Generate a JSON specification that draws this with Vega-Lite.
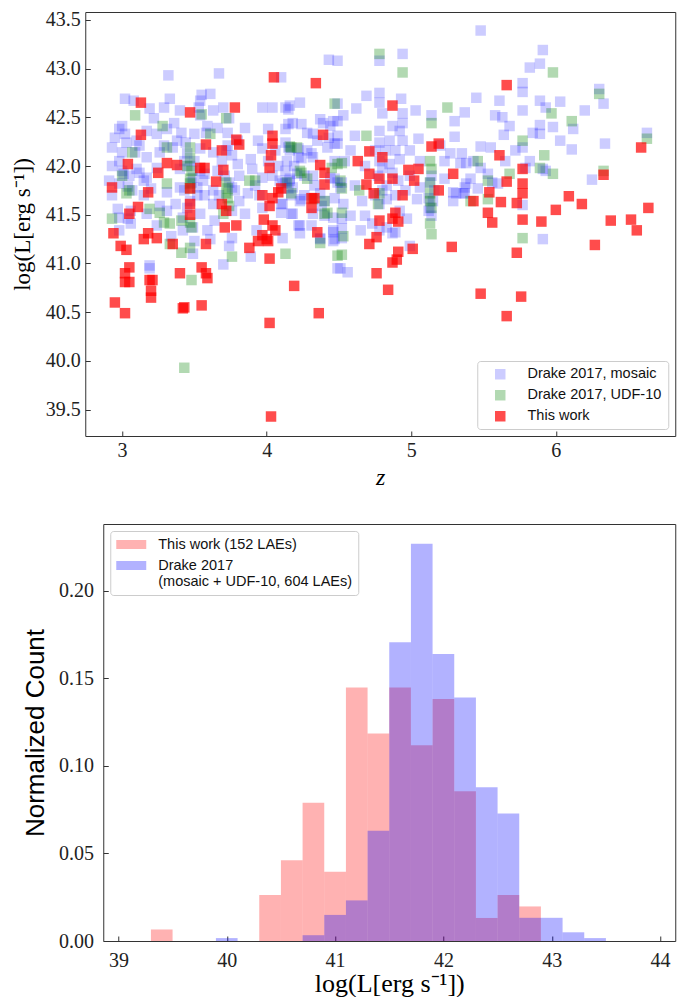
{
"$schema": "https://vega.github.io/schema/vega-lite/v6.json",
"padding": {"left": 10, "top": 9, "right": 0, "bottom": 0},
"background": "white",
"center": true,
"spacing": 33,
"resolve": {"scale": {"color": "independent"}, "legend": {"color": "independent"}},
"config": {
  "view": {"stroke": "#333333", "strokeWidth": 1},
  "axis": {"labelFont": "Liberation Serif", "labelFontSize": 20, "labelColor": "#222222", "tickColor": "#333333", "tickSize": -5, "tickWidth": 1, "domain": false, "grid": false, "titleFontWeight": "normal", "titleColor": "#000000"},
  "legend": {"titleFontSize": 0, "titlePadding": 0}
},
"vconcat": [
{
  "width": 590, "height": 424,
  "data": {"values": [
{"z":3.32,"L":42.93,"s":"M"},{"z":3.67,"L":42.95,"s":"M"},{"z":3.33,"L":42.69,"s":"M"},{"z":3.61,"L":42.74,"s":"M"},{"z":3.55,"L":42.73,"s":"M"},{"z":3.54,"L":42.67,"s":"M"},{"z":3.53,"L":42.60,"s":"M"},{"z":3.02,"L":42.69,"s":"M"},{"z":3.08,"L":42.67,"s":"M"},{"z":3.19,"L":42.59,"s":"M"},{"z":3.29,"L":42.60,"s":"M"},{"z":3.40,"L":42.57,"s":"M"},{"z":3.36,"L":42.44,"s":"M"},{"z":3.54,"L":42.52,"s":"M"},{"z":3.63,"L":42.57,"s":"M"},{"z":3.70,"L":42.60,"s":"M"},{"z":3.74,"L":42.49,"s":"M"},{"z":3.97,"L":42.60,"s":"M"},{"z":4.04,"L":42.60,"s":"M"},{"z":4.13,"L":42.60,"s":"M"},{"z":4.16,"L":42.62,"s":"M"},{"z":4.23,"L":42.65,"s":"M"},{"z":4.43,"L":43.09,"s":"M"},{"z":4.49,"L":42.64,"s":"M"},
{"z":3.00,"L":42.41,"s":"M"},{"z":2.95,"L":42.29,"s":"M"},{"z":2.93,"L":42.19,"s":"M"},{"z":3.03,"L":42.24,"s":"M"},{"z":3.10,"L":42.26,"s":"M"},{"z":3.17,"L":42.36,"s":"M"},{"z":3.24,"L":42.33,"s":"M"},{"z":3.31,"L":42.38,"s":"M"},{"z":3.41,"L":42.34,"s":"M"},{"z":3.50,"L":42.33,"s":"M"},{"z":3.58,"L":42.34,"s":"M"},{"z":3.66,"L":42.39,"s":"M"},{"z":3.73,"L":42.34,"s":"M"},{"z":3.85,"L":42.39,"s":"M"},{"z":4.01,"L":42.38,"s":"M"},{"z":4.13,"L":42.38,"s":"M"},{"z":4.18,"L":42.44,"s":"M"},{"z":4.24,"L":42.43,"s":"M"},{"z":4.32,"L":42.33,"s":"M"},{"z":4.39,"L":42.44,"s":"M"},{"z":4.46,"L":42.46,"s":"M"},
{"z":3.00,"L":42.14,"s":"M"},{"z":3.09,"L":42.14,"s":"M"},{"z":3.17,"L":42.09,"s":"M"},{"z":3.26,"L":42.14,"s":"M"},{"z":3.35,"L":42.19,"s":"M"},{"z":3.45,"L":42.13,"s":"M"},{"z":3.54,"L":42.18,"s":"M"},{"z":3.63,"L":42.14,"s":"M"},{"z":3.73,"L":42.21,"s":"M"},{"z":3.76,"L":42.11,"s":"M"},{"z":3.89,"L":42.07,"s":"M"},{"z":3.97,"L":42.18,"s":"M"},{"z":4.06,"L":42.16,"s":"M"},{"z":4.15,"L":42.19,"s":"M"},{"z":4.24,"L":42.08,"s":"M"},{"z":4.31,"L":42.13,"s":"M"},{"z":4.42,"L":42.19,"s":"M"},{"z":4.47,"L":42.23,"s":"M"},
{"z":2.93,"L":42.00,"s":"M"},{"z":3.01,"L":41.92,"s":"M"},{"z":3.10,"L":41.97,"s":"M"},{"z":3.17,"L":41.88,"s":"M"},{"z":3.24,"L":41.98,"s":"M"},{"z":3.40,"L":41.97,"s":"M"},{"z":3.49,"L":41.88,"s":"M"},{"z":3.57,"L":41.92,"s":"M"},{"z":3.66,"L":41.95,"s":"M"},{"z":3.80,"L":42.02,"s":"M"},{"z":3.90,"L":41.97,"s":"M"},{"z":3.97,"L":41.88,"s":"M"},{"z":4.04,"L":41.90,"s":"M"},{"z":4.16,"L":41.85,"s":"M"},{"z":4.21,"L":41.92,"s":"M"},{"z":4.32,"L":41.90,"s":"M"},{"z":4.44,"L":41.88,"s":"M"},{"z":4.49,"L":41.83,"s":"M"},
{"z":2.93,"L":41.70,"s":"M"},{"z":2.98,"L":41.82,"s":"M"},{"z":3.07,"L":41.75,"s":"M"},{"z":3.20,"L":41.77,"s":"M"},{"z":3.31,"L":41.73,"s":"M"},{"z":3.40,"L":41.78,"s":"M"},{"z":3.52,"L":41.78,"s":"M"},{"z":3.63,"L":41.75,"s":"M"},{"z":3.76,"L":41.78,"s":"M"},{"z":3.87,"L":41.72,"s":"M"},{"z":3.95,"L":41.70,"s":"M"},{"z":4.13,"L":41.83,"s":"M"},{"z":4.18,"L":41.78,"s":"M"},{"z":4.24,"L":41.66,"s":"M"},{"z":4.37,"L":41.72,"s":"M"},{"z":4.47,"L":41.67,"s":"M"},
{"z":2.97,"L":41.56,"s":"M"},{"z":3.06,"L":41.54,"s":"M"},{"z":3.17,"L":41.51,"s":"M"},{"z":3.26,"L":41.59,"s":"M"},{"z":3.42,"L":41.47,"s":"M"},{"z":3.45,"L":41.57,"s":"M"},{"z":3.54,"L":41.51,"s":"M"},{"z":3.63,"L":41.61,"s":"M"},{"z":3.76,"L":41.54,"s":"M"},{"z":3.85,"L":41.51,"s":"M"},{"z":4.11,"L":41.61,"s":"M"},{"z":4.18,"L":41.51,"s":"M"},{"z":4.23,"L":41.39,"s":"M"},{"z":4.32,"L":41.51,"s":"M"},{"z":4.38,"L":41.59,"s":"M"},{"z":4.46,"L":41.47,"s":"M"},
{"z":2.98,"L":41.34,"s":"M"},{"z":3.06,"L":41.41,"s":"M"},{"z":3.24,"L":41.39,"s":"M"},{"z":3.42,"L":41.34,"s":"M"},{"z":3.49,"L":41.37,"s":"M"},{"z":3.59,"L":41.34,"s":"M"},{"z":3.76,"L":41.26,"s":"M"},{"z":3.93,"L":41.34,"s":"M"},{"z":4.11,"L":41.26,"s":"M"},{"z":4.23,"L":41.31,"s":"M"},{"z":4.37,"L":41.26,"s":"M"},{"z":4.46,"L":41.32,"s":"M"},
{"z":2.98,"L":41.47,"s":"M"},{"z":3.04,"L":41.46,"s":"M"},{"z":3.19,"L":40.98,"s":"M"},{"z":3.19,"L":40.95,"s":"M"},{"z":3.49,"L":41.10,"s":"M"},{"z":3.74,"L":41.18,"s":"M"},{"z":3.70,"L":40.99,"s":"M"},{"z":3.89,"L":41.07,"s":"M"},{"z":3.97,"L":41.57,"s":"M"},{"z":4.10,"L":41.52,"s":"M"},{"z":4.49,"L":40.95,"s":"M"},{"z":4.47,"L":41.25,"s":"M"},
{"z":2.98,"L":42.38,"s":"M"},{"z":3.02,"L":42.33,"s":"M"},{"z":3.00,"L":41.95,"s":"M"},{"z":3.05,"L":41.90,"s":"M"},{"z":3.12,"L":41.93,"s":"M"},{"z":3.15,"L":41.85,"s":"M"},{"z":3.04,"L":41.79,"s":"M"},{"z":3.43,"L":42.05,"s":"M"},{"z":3.47,"L":42.00,"s":"M"},{"z":3.50,"L":42.05,"s":"M"},{"z":3.54,"L":41.95,"s":"M"},{"z":3.48,"L":41.83,"s":"M"},{"z":3.52,"L":41.70,"s":"M"},{"z":3.47,"L":41.64,"s":"M"},{"z":3.43,"L":41.75,"s":"M"},{"z":3.56,"L":41.85,"s":"M"},{"z":3.69,"L":42.05,"s":"M"},{"z":3.71,"L":41.90,"s":"M"},{"z":3.74,"L":41.83,"s":"M"},{"z":3.78,"L":41.75,"s":"M"},{"z":3.67,"L":41.70,"s":"M"},{"z":3.72,"L":42.16,"s":"M"},{"z":3.12,"L":42.21,"s":"M"},{"z":3.29,"L":42.21,"s":"M"},{"z":3.38,"L":42.26,"s":"M"},{"z":3.94,"L":42.26,"s":"M"},{"z":3.81,"L":41.90,"s":"M"},{"z":3.31,"L":41.54,"s":"M"},{"z":3.57,"L":41.70,"s":"M"},{"z":3.64,"L":41.44,"s":"M"},{"z":3.15,"L":41.70,"s":"M"},{"z":2.91,"L":41.85,"s":"M"},{"z":3.92,"L":41.80,"s":"M"},{"z":4.01,"L":42.05,"s":"M"},{"z":4.08,"L":42.00,"s":"M"},{"z":3.44,"L":42.24,"s":"M"},{"z":3.59,"L":42.41,"s":"M"},{"z":3.80,"L":42.26,"s":"M"},{"z":3.22,"L":42.49,"s":"M"},{"z":2.98,"L":42.05,"s":"M"},{"z":3.81,"L":41.64,"s":"M"},{"z":3.37,"L":41.61,"s":"M"},{"z":3.61,"L":41.25,"s":"M"},{"z":3.50,"L":41.23,"s":"M"},{"z":3.34,"L":41.28,"s":"M"},
{"z":4.49,"L":43.08,"s":"M"},{"z":4.78,"L":43.08,"s":"M"},{"z":4.10,"L":42.91,"s":"M"},{"z":4.69,"L":42.72,"s":"M"},{"z":4.78,"L":42.75,"s":"M"},{"z":4.78,"L":42.65,"s":"M"},{"z":4.93,"L":42.69,"s":"M"},{"z":5.45,"L":42.70,"s":"M"},{"z":4.15,"L":42.58,"s":"M"},{"z":4.62,"L":42.59,"s":"M"},{"z":5.03,"L":42.57,"s":"M"},{"z":5.14,"L":42.52,"s":"M"},{"z":5.37,"L":42.55,"s":"M"},{"z":4.80,"L":42.54,"s":"M"},{"z":4.94,"L":42.54,"s":"M"},{"z":4.94,"L":42.44,"s":"M"},{"z":4.15,"L":42.43,"s":"M"},{"z":4.49,"L":42.46,"s":"M"},{"z":4.53,"L":42.52,"s":"M"},{"z":4.28,"L":42.34,"s":"M"},{"z":4.43,"L":42.29,"s":"M"},{"z":4.49,"L":42.31,"s":"M"},{"z":4.78,"L":42.36,"s":"M"},{"z":4.87,"L":42.41,"s":"M"},{"z":4.92,"L":42.36,"s":"M"},{"z":5.30,"L":42.30,"s":"M"},{"z":4.13,"L":42.24,"s":"M"},{"z":4.22,"L":42.18,"s":"M"},{"z":4.28,"L":42.16,"s":"M"},{"z":4.49,"L":42.23,"s":"M"},{"z":4.78,"L":42.24,"s":"M"},{"z":4.85,"L":42.26,"s":"M"},{"z":4.94,"L":42.26,"s":"M"},{"z":5.05,"L":42.28,"s":"M"},{"z":5.27,"L":42.13,"s":"M"},{"z":5.35,"L":42.13,"s":"M"},{"z":5.43,"L":42.05,"s":"M"},{"z":4.14,"L":42.05,"s":"M"},{"z":4.13,"L":41.95,"s":"M"},{"z":4.22,"L":42.09,"s":"M"},{"z":4.32,"L":42.09,"s":"M"},{"z":4.47,"L":42.05,"s":"M"},{"z":4.54,"L":42.05,"s":"M"},{"z":4.78,"L":42.05,"s":"M"},{"z":4.80,"L":41.98,"s":"M"},{"z":4.85,"L":42.02,"s":"M"},{"z":4.92,"L":42.07,"s":"M"},{"z":5.06,"L":42.05,"s":"M"},{"z":5.23,"L":42.05,"s":"M"},{"z":5.34,"L":42.03,"s":"M"},{"z":4.16,"L":41.87,"s":"M"},{"z":4.11,"L":41.82,"s":"M"},{"z":4.15,"L":41.77,"s":"M"},{"z":4.26,"L":41.90,"s":"M"},{"z":4.47,"L":41.87,"s":"M"},{"z":4.52,"L":41.83,"s":"M"},{"z":4.51,"L":41.78,"s":"M"},{"z":4.61,"L":41.80,"s":"M"},{"z":4.83,"L":41.80,"s":"M"},{"z":4.80,"L":41.75,"s":"M"},{"z":5.06,"L":41.78,"s":"M"},{"z":5.13,"L":41.83,"s":"M"},{"z":5.29,"L":41.73,"s":"M"},{"z":5.37,"L":41.78,"s":"M"},{"z":5.46,"L":41.77,"s":"M"},{"z":4.10,"L":41.61,"s":"M"},{"z":4.17,"L":41.51,"s":"M"},{"z":4.23,"L":41.64,"s":"M"},{"z":4.26,"L":41.70,"s":"M"},{"z":4.40,"L":41.64,"s":"M"},{"z":4.53,"L":41.61,"s":"M"},{"z":4.58,"L":41.49,"s":"M"},{"z":4.83,"L":41.66,"s":"M"},{"z":4.78,"L":41.61,"s":"M"},{"z":5.04,"L":41.66,"s":"M"},{"z":5.12,"L":41.67,"s":"M"},{"z":5.13,"L":41.57,"s":"M"},{"z":5.29,"L":41.64,"s":"M"},{"z":5.36,"L":41.72,"s":"M"},{"z":4.22,"L":41.39,"s":"M"},{"z":4.31,"L":41.39,"s":"M"},{"z":4.46,"L":41.34,"s":"M"},{"z":4.52,"L":41.36,"s":"M"},{"z":4.73,"L":41.41,"s":"M"},{"z":4.78,"L":41.34,"s":"M"},{"z":4.83,"L":41.37,"s":"M"},{"z":4.89,"L":41.32,"s":"M"},{"z":4.97,"L":41.46,"s":"M"},{"z":5.14,"L":41.49,"s":"M"},{"z":4.46,"L":41.23,"s":"M"},{"z":4.52,"L":41.26,"s":"M"},{"z":4.99,"L":41.18,"s":"M"},{"z":4.52,"L":41.46,"s":"M"},{"z":4.68,"L":41.49,"s":"M"},{"z":4.37,"L":41.25,"s":"M"},{"z":4.51,"L":40.95,"s":"M"},{"z":4.56,"L":40.91,"s":"M"},
{"z":4.37,"L":42.48,"s":"M"},{"z":4.44,"L":42.41,"s":"M"},{"z":4.75,"L":42.16,"s":"M"},{"z":4.82,"L":42.16,"s":"M"},{"z":4.89,"L":42.16,"s":"M"},{"z":4.77,"L":41.90,"s":"M"},{"z":4.87,"L":41.93,"s":"M"},{"z":4.91,"L":41.85,"s":"M"},{"z":4.75,"L":41.70,"s":"M"},{"z":4.89,"L":41.70,"s":"M"},{"z":4.96,"L":41.75,"s":"M"},{"z":5.14,"L":41.90,"s":"M"},{"z":5.16,"L":41.75,"s":"M"},{"z":5.15,"L":41.64,"s":"M"},{"z":5.12,"L":41.54,"s":"M"},{"z":4.16,"L":42.16,"s":"M"},{"z":4.19,"L":42.00,"s":"M"},{"z":4.09,"L":41.85,"s":"M"},{"z":4.17,"L":41.70,"s":"M"},{"z":4.35,"L":42.26,"s":"M"},{"z":4.61,"L":42.31,"s":"M"},{"z":4.68,"L":42.00,"s":"M"},{"z":4.66,"L":41.64,"s":"M"},{"z":4.99,"L":42.16,"s":"M"},{"z":4.99,"L":41.90,"s":"M"},{"z":4.58,"L":42.16,"s":"M"},{"z":5.20,"L":42.21,"s":"M"},{"z":5.23,"L":41.87,"s":"M"},{"z":4.33,"L":41.80,"s":"M"},{"z":4.40,"L":41.49,"s":"M"},{"z":4.92,"L":41.54,"s":"M"},{"z":4.65,"L":41.34,"s":"M"},
{"z":5.48,"L":43.39,"s":"M"},{"z":4.94,"L":43.15,"s":"M"},{"z":5.91,"L":43.19,"s":"M"},{"z":5.89,"L":43.05,"s":"M"},{"z":5.82,"L":43.01,"s":"M"},{"z":5.77,"L":42.85,"s":"M"},{"z":5.77,"L":42.76,"s":"M"},{"z":5.61,"L":42.67,"s":"M"},{"z":6.03,"L":42.66,"s":"M"},{"z":5.89,"L":42.67,"s":"M"},{"z":5.93,"L":42.60,"s":"M"},{"z":6.30,"L":42.79,"s":"M"},{"z":6.33,"L":42.64,"s":"M"},{"z":5.58,"L":42.52,"s":"M"},{"z":5.63,"L":42.50,"s":"M"},{"z":5.77,"L":42.57,"s":"M"},{"z":5.98,"L":42.40,"s":"M"},{"z":5.89,"L":42.42,"s":"M"},{"z":5.89,"L":42.33,"s":"M"},{"z":5.84,"L":42.34,"s":"M"},{"z":6.12,"L":42.38,"s":"M"},{"z":5.64,"L":42.32,"s":"M"},{"z":6.11,"L":42.17,"s":"M"},{"z":6.34,"L":42.23,"s":"M"},{"z":6.63,"L":42.34,"s":"M"},{"z":5.48,"L":42.20,"s":"M"},{"z":5.55,"L":42.19,"s":"M"},{"z":5.77,"L":42.19,"s":"M"},{"z":5.38,"L":42.03,"s":"M"},{"z":5.82,"L":42.05,"s":"M"},{"z":5.79,"L":41.98,"s":"M"},{"z":5.91,"L":41.97,"s":"M"},{"z":5.93,"L":41.95,"s":"M"},{"z":5.48,"L":41.98,"s":"M"},{"z":5.53,"L":41.92,"s":"M"},{"z":5.60,"L":41.82,"s":"M"},{"z":5.38,"L":41.82,"s":"M"},{"z":5.37,"L":41.72,"s":"M"},{"z":5.31,"L":41.72,"s":"M"},{"z":5.41,"L":41.87,"s":"M"},{"z":6.25,"L":41.86,"s":"M"},{"z":5.77,"L":41.60,"s":"M"},{"z":5.91,"L":41.25,"s":"M"},{"z":5.56,"L":41.83,"s":"M"},{"z":4.87,"L":41.31,"s":"M"},{"z":5.68,"L":42.41,"s":"M"},{"z":5.72,"L":42.16,"s":"M"},{"z":6.03,"L":42.26,"s":"M"},{"z":6.20,"L":42.57,"s":"M"},{"z":5.30,"L":42.46,"s":"M"},{"z":5.65,"L":42.05,"s":"M"},
{"z":3.09,"L":42.52,"s":"U"},{"z":3.28,"L":42.41,"s":"U"},{"z":3.55,"L":42.53,"s":"U"},{"z":3.72,"L":42.49,"s":"U"},{"z":3.31,"L":42.19,"s":"U"},{"z":3.47,"L":42.19,"s":"U"},{"z":3.61,"L":42.33,"s":"U"},{"z":3.07,"L":42.14,"s":"U"},{"z":3.47,"L":42.08,"s":"U"},{"z":3.45,"L":42.00,"s":"U"},{"z":3.48,"L":41.95,"s":"U"},{"z":3.00,"L":41.90,"s":"U"},{"z":3.03,"L":41.72,"s":"U"},{"z":3.05,"L":41.75,"s":"U"},{"z":3.31,"L":41.82,"s":"U"},{"z":3.47,"L":41.87,"s":"U"},{"z":3.47,"L":41.82,"s":"U"},{"z":3.47,"L":41.77,"s":"U"},{"z":3.72,"L":41.83,"s":"U"},{"z":3.73,"L":41.77,"s":"U"},{"z":3.72,"L":41.72,"s":"U"},{"z":3.73,"L":41.67,"s":"U"},{"z":3.88,"L":41.85,"s":"U"},{"z":3.92,"L":41.85,"s":"U"},{"z":4.17,"L":42.19,"s":"U"},{"z":4.21,"L":42.19,"s":"U"},{"z":4.14,"L":41.83,"s":"U"},{"z":4.24,"L":41.93,"s":"U"},{"z":4.28,"L":41.87,"s":"U"},{"z":2.93,"L":41.46,"s":"U"},{"z":3.19,"L":41.56,"s":"U"},{"z":3.26,"L":41.52,"s":"U"},{"z":3.33,"L":41.41,"s":"U"},{"z":3.41,"L":41.44,"s":"U"},{"z":3.47,"L":41.42,"s":"U"},{"z":3.48,"L":41.37,"s":"U"},{"z":3.74,"L":41.59,"s":"U"},{"z":3.70,"L":41.51,"s":"U"},{"z":4.32,"L":41.66,"s":"U"},{"z":4.40,"L":41.64,"s":"U"},{"z":4.40,"L":41.51,"s":"U"},{"z":4.47,"L":42.64,"s":"U"},{"z":4.49,"L":42.02,"s":"U"},{"z":3.29,"L":41.42,"s":"U"},{"z":3.33,"L":41.20,"s":"U"},{"z":3.41,"L":41.11,"s":"U"},{"z":3.47,"L":41.16,"s":"U"},{"z":3.48,"L":40.83,"s":"U"},{"z":3.76,"L":41.07,"s":"U"},{"z":3.43,"L":39.93,"s":"U"},{"z":4.13,"L":41.10,"s":"U"},{"z":4.37,"L":41.21,"s":"U"},{"z":4.49,"L":41.08,"s":"U"},{"z":4.94,"L":42.96,"s":"U"},{"z":5.25,"L":42.60,"s":"U"},{"z":5.14,"L":42.44,"s":"U"},{"z":4.69,"L":42.31,"s":"U"},{"z":4.16,"L":42.20,"s":"U"},{"z":4.23,"L":41.95,"s":"U"},{"z":4.45,"L":41.98,"s":"U"},{"z":4.52,"L":42.03,"s":"U"},{"z":5.13,"L":42.05,"s":"U"},{"z":5.14,"L":41.97,"s":"U"},{"z":5.46,"L":42.05,"s":"U"},{"z":4.51,"L":41.85,"s":"U"},{"z":4.52,"L":41.77,"s":"U"},{"z":4.64,"L":41.75,"s":"U"},{"z":4.17,"L":41.72,"s":"U"},{"z":4.78,"L":41.72,"s":"U"},{"z":4.77,"L":41.61,"s":"U"},{"z":5.13,"L":41.72,"s":"U"},{"z":5.13,"L":41.64,"s":"U"},{"z":5.14,"L":41.57,"s":"U"},{"z":4.42,"L":41.52,"s":"U"},{"z":4.52,"L":41.52,"s":"U"},{"z":5.41,"L":41.64,"s":"U"},{"z":5.13,"L":41.41,"s":"U"},{"z":5.14,"L":41.30,"s":"U"},{"z":4.53,"L":41.28,"s":"U"},{"z":4.52,"L":41.09,"s":"U"},{"z":4.78,"L":43.15,"s":"U"},{"z":5.98,"L":42.96,"s":"U"},{"z":6.30,"L":42.74,"s":"U"},{"z":5.97,"L":42.54,"s":"U"},{"z":6.11,"L":42.46,"s":"U"},{"z":6.63,"L":42.28,"s":"U"},{"z":5.77,"L":42.26,"s":"U"},{"z":5.92,"L":42.11,"s":"U"},{"z":5.89,"L":41.98,"s":"U"},{"z":5.68,"L":41.92,"s":"U"},{"z":5.98,"L":41.92,"s":"U"},{"z":6.33,"L":41.95,"s":"U"},{"z":5.53,"L":41.85,"s":"U"},{"z":5.13,"L":41.83,"s":"U"},{"z":5.53,"L":41.66,"s":"U"},{"z":5.77,"L":41.26,"s":"U"},
{"z":4.05,"L":42.91,"s":"T"},{"z":3.13,"L":42.65,"s":"T"},{"z":3.47,"L":42.55,"s":"T"},{"z":3.78,"L":42.60,"s":"T"},{"z":3.13,"L":42.32,"s":"T"},{"z":3.58,"L":42.22,"s":"T"},{"z":3.79,"L":42.27,"s":"T"},{"z":3.81,"L":42.22,"s":"T"},{"z":3.69,"L":42.16,"s":"T"},{"z":4.04,"L":42.31,"s":"T"},{"z":4.04,"L":42.23,"s":"T"},{"z":4.03,"L":42.11,"s":"T"},{"z":3.04,"L":42.02,"s":"T"},{"z":3.31,"L":42.03,"s":"T"},{"z":3.38,"L":42.01,"s":"T"},{"z":3.25,"L":41.93,"s":"T"},{"z":3.54,"L":41.98,"s":"T"},{"z":3.57,"L":41.98,"s":"T"},{"z":3.70,"L":41.96,"s":"T"},{"z":4.02,"L":41.98,"s":"T"},{"z":2.93,"L":41.78,"s":"T"},{"z":3.18,"L":41.73,"s":"T"},{"z":3.47,"L":41.77,"s":"T"},{"z":3.65,"L":41.84,"s":"T"},{"z":3.11,"L":41.58,"s":"T"},{"z":3.05,"L":41.51,"s":"T"},{"z":3.47,"L":41.61,"s":"T"},{"z":3.47,"L":41.50,"s":"T"},{"z":3.69,"L":41.61,"s":"T"},{"z":3.72,"L":41.54,"s":"T"},{"z":3.97,"L":41.70,"s":"T"},{"z":4.04,"L":41.67,"s":"T"},{"z":4.08,"L":41.73,"s":"T"},{"z":4.10,"L":41.77,"s":"T"},{"z":4.02,"L":41.59,"s":"T"},{"z":3.71,"L":41.37,"s":"T"},{"z":3.79,"L":41.39,"s":"T"},{"z":2.94,"L":41.31,"s":"T"},{"z":3.15,"L":41.25,"s":"T"},{"z":3.18,"L":41.31,"s":"T"},{"z":3.24,"L":41.26,"s":"T"},{"z":2.99,"L":41.18,"s":"T"},{"z":3.03,"L":41.14,"s":"T"},{"z":3.35,"L":41.20,"s":"T"},{"z":3.58,"L":41.20,"s":"T"},{"z":3.98,"L":41.45,"s":"T"},{"z":4.04,"L":41.39,"s":"T"},{"z":3.97,"L":41.29,"s":"T"},{"z":3.94,"L":41.23,"s":"T"},{"z":4.00,"L":41.25,"s":"T"},{"z":3.88,"L":41.16,"s":"T"},{"z":4.02,"L":41.05,"s":"T"},{"z":3.05,"L":40.96,"s":"T"},{"z":3.02,"L":40.90,"s":"T"},{"z":3.02,"L":40.81,"s":"T"},{"z":3.05,"L":40.81,"s":"T"},{"z":3.19,"L":40.83,"s":"T"},{"z":3.21,"L":40.83,"s":"T"},{"z":3.20,"L":40.72,"s":"T"},{"z":3.20,"L":40.65,"s":"T"},{"z":3.40,"L":40.90,"s":"T"},{"z":3.55,"L":40.96,"s":"T"},{"z":3.58,"L":40.90,"s":"T"},{"z":3.59,"L":40.85,"s":"T"},{"z":2.95,"L":40.60,"s":"T"},{"z":3.02,"L":40.49,"s":"T"},{"z":3.42,"L":40.54,"s":"T"},{"z":3.43,"L":40.55,"s":"T"},{"z":3.55,"L":40.57,"s":"T"},{"z":4.02,"L":40.39,"s":"T"},{"z":4.34,"L":42.85,"s":"T"},{"z":4.87,"L":42.62,"s":"T"},{"z":4.39,"L":42.32,"s":"T"},{"z":4.71,"L":42.15,"s":"T"},{"z":4.80,"L":42.09,"s":"T"},{"z":4.63,"L":42.05,"s":"T"},{"z":5.14,"L":42.20,"s":"T"},{"z":5.19,"L":42.23,"s":"T"},{"z":4.37,"L":42.01,"s":"T"},{"z":4.40,"L":41.93,"s":"T"},{"z":4.71,"L":41.92,"s":"T"},{"z":4.78,"L":41.87,"s":"T"},{"z":4.87,"L":41.87,"s":"T"},{"z":4.98,"L":41.96,"s":"T"},{"z":5.05,"L":41.97,"s":"T"},{"z":5.02,"L":41.85,"s":"T"},{"z":5.29,"L":41.92,"s":"T"},{"z":4.40,"L":41.81,"s":"T"},{"z":4.69,"L":41.81,"s":"T"},{"z":4.74,"L":41.72,"s":"T"},{"z":4.31,"L":41.67,"s":"T"},{"z":4.33,"L":41.67,"s":"T"},{"z":4.31,"L":41.57,"s":"T"},{"z":4.94,"L":41.70,"s":"T"},{"z":5.19,"L":41.75,"s":"T"},{"z":5.43,"L":41.64,"s":"T"},{"z":4.89,"L":41.52,"s":"T"},{"z":4.87,"L":41.46,"s":"T"},{"z":4.91,"L":41.43,"s":"T"},{"z":4.78,"L":41.44,"s":"T"},{"z":4.35,"L":41.32,"s":"T"},{"z":4.76,"L":41.27,"s":"T"},{"z":4.71,"L":41.20,"s":"T"},{"z":5.01,"L":41.15,"s":"T"},{"z":4.91,"L":41.12,"s":"T"},{"z":5.28,"L":41.17,"s":"T"},{"z":4.87,"L":41.01,"s":"T"},{"z":4.90,"L":41.04,"s":"T"},{"z":4.19,"L":40.77,"s":"T"},{"z":4.76,"L":40.90,"s":"T"},{"z":4.84,"L":40.73,"s":"T"},{"z":4.36,"L":40.49,"s":"T"},{"z":5.48,"L":40.69,"s":"T"},{"z":5.66,"L":42.83,"s":"T"},{"z":6.59,"L":42.19,"s":"T"},{"z":5.61,"L":42.11,"s":"T"},{"z":5.77,"L":41.97,"s":"T"},{"z":6.33,"L":41.91,"s":"T"},{"z":5.66,"L":41.84,"s":"T"},{"z":5.77,"L":41.82,"s":"T"},{"z":5.77,"L":41.72,"s":"T"},{"z":5.54,"L":41.73,"s":"T"},{"z":5.62,"L":41.63,"s":"T"},{"z":5.73,"L":41.62,"s":"T"},{"z":6.09,"L":41.69,"s":"T"},{"z":6.18,"L":41.61,"s":"T"},{"z":6.00,"L":41.55,"s":"T"},{"z":6.64,"L":41.57,"s":"T"},{"z":5.53,"L":41.52,"s":"T"},{"z":5.56,"L":41.42,"s":"T"},{"z":5.77,"L":41.45,"s":"T"},{"z":5.90,"L":41.43,"s":"T"},{"z":6.38,"L":41.44,"s":"T"},{"z":6.52,"L":41.45,"s":"T"},{"z":6.56,"L":41.34,"s":"T"},{"z":6.27,"L":41.19,"s":"T"},{"z":5.73,"L":41.11,"s":"T"},{"z":5.76,"L":40.66,"s":"T"},{"z":5.66,"L":40.46,"s":"T"},{"z":4.03,"L":39.43,"s":"T"},{"z":4.01,"L":41.23,"s":"T"},{"z":4.06,"L":41.34,"s":"T"}
  ]},
  "layer": [
    {
      "mark": {"type": "point", "shape": "square", "filled": true, "size": 110, "strokeWidth": 0, "opacity": 1},
      "encoding": {
        "x": {"field": "z", "type": "quantitative", "scale": {"domain": [2.745, 6.826], "nice": false, "zero": false},
              "axis": {"values": [3, 4, 5, 6], "format": "d", "labelPadding": 9, "title": "z", "titleFont": "Liberation Serif", "titleFontStyle": "italic", "titleFontSize": 24, "titlePadding": 5}},
        "y": {"field": "L", "type": "quantitative", "scale": {"domain": [39.23, 43.58], "nice": false, "zero": false},
              "axis": {"values": [39.5, 40, 40.5, 41, 41.5, 42, 42.5, 43, 43.5], "format": ".1f", "labelPadding": 10, "title": "log(L[erg s⁻¹])", "titleFont": "Liberation Serif", "titleFontSize": 23, "titlePadding": 11}},
        "color": {"field": "s", "type": "nominal", "sort": null,
                  "scale": {"domain": ["M", "U", "T"], "range": ["rgba(0,0,255,0.2)", "rgba(0,128,0,0.3)", "rgba(255,0,0,0.7)"]},
                  "legend": {"orient": "bottom-right", "offset": 7, "title": null,
                             "labelExpr": "datum.value == 'M' ? 'Drake 2017, mosaic' : datum.value == 'U' ? 'Drake 2017, UDF-10' : 'This work'",
                             "symbolType": "square", "symbolSize": 110, "symbolStrokeWidth": 0, "symbolOffset": 9.75, "labelOffset": 20,
                             "labelFont": "Liberation Sans", "labelFontSize": 14.5, "labelColor": "#111111", "rowPadding": 6, "padding": 6,
                             "strokeColor": "#cccccc", "fillColor": "white", "cornerRadius": 3}}
      }
    },
    {
      "mark": {"type": "point", "opacity": 0},
      "encoding": {
        "x": {"field": "z", "type": "quantitative"},
        "y": {"field": "L", "type": "quantitative", "scale": {"domain": [39.23, 43.58], "nice": false, "zero": false},
              "axis": {"orient": "right", "labels": false, "ticks": true, "values": [41], "tickSize": 15.5, "tickColor": "white", "offset": 2, "title": null}}
      }
    }
  ],
  "resolve": {"scale": {"y": "independent"}}
},
{
  "width": 572, "height": 417,
  "data": {"values": [
    {"lo": 39.3, "hi": 39.5, "v": 0.00658, "s": "T"},
    {"lo": 40.3, "hi": 40.5, "v": 0.02632, "s": "T"},
    {"lo": 40.5, "hi": 40.7, "v": 0.04605, "s": "T"},
    {"lo": 40.7, "hi": 40.9, "v": 0.07895, "s": "T"},
    {"lo": 40.9, "hi": 41.1, "v": 0.03947, "s": "T"},
    {"lo": 41.1, "hi": 41.3, "v": 0.14474, "s": "T"},
    {"lo": 41.3, "hi": 41.5, "v": 0.11842, "s": "T"},
    {"lo": 41.5, "hi": 41.7, "v": 0.14474, "s": "T"},
    {"lo": 41.7, "hi": 41.9, "v": 0.11184, "s": "T"},
    {"lo": 41.9, "hi": 42.1, "v": 0.13816, "s": "T"},
    {"lo": 42.1, "hi": 42.3, "v": 0.08553, "s": "T"},
    {"lo": 42.3, "hi": 42.5, "v": 0.01316, "s": "T"},
    {"lo": 42.5, "hi": 42.7, "v": 0.02632, "s": "T"},
    {"lo": 42.7, "hi": 42.9, "v": 0.01974, "s": "T"},
    {"lo": 39.9, "hi": 40.1, "v": 0.00166, "s": "D"},
    {"lo": 40.7, "hi": 40.9, "v": 0.00331, "s": "D"},
    {"lo": 40.9, "hi": 41.1, "v": 0.01490, "s": "D"},
    {"lo": 41.1, "hi": 41.3, "v": 0.02318, "s": "D"},
    {"lo": 41.3, "hi": 41.5, "v": 0.06291, "s": "D"},
    {"lo": 41.5, "hi": 41.7, "v": 0.17053, "s": "D"},
    {"lo": 41.7, "hi": 41.9, "v": 0.22682, "s": "D"},
    {"lo": 41.9, "hi": 42.1, "v": 0.16391, "s": "D"},
    {"lo": 42.1, "hi": 42.3, "v": 0.13907, "s": "D"},
    {"lo": 42.3, "hi": 42.5, "v": 0.08775, "s": "D"},
    {"lo": 42.5, "hi": 42.7, "v": 0.07285, "s": "D"},
    {"lo": 42.7, "hi": 42.9, "v": 0.01325, "s": "D"},
    {"lo": 42.9, "hi": 43.1, "v": 0.01325, "s": "D"},
    {"lo": 43.1, "hi": 43.3, "v": 0.00497, "s": "D"},
    {"lo": 43.3, "hi": 43.5, "v": 0.00166, "s": "D"}
  ]},
  "mark": {"type": "rect", "strokeWidth": 0},
  "encoding": {
    "x": {"field": "lo", "type": "quantitative", "scale": {"domain": [38.86, 44.14], "nice": false, "zero": false},
          "axis": {"values": [39, 40, 41, 42, 43, 44], "format": "d", "labelPadding": 14.5, "title": "log(L[erg s⁻¹])", "titleFont": "Liberation Serif", "titleFontSize": 26, "titlePadding": 0}},
    "x2": {"field": "hi"},
    "y": {"field": "v", "type": "quantitative", "scale": {"domain": [0, 0.2381], "nice": false},
          "axis": {"values": [0, 0.05, 0.1, 0.15, 0.2], "format": ".2f", "labelPadding": 14.7, "title": "Normalized Count", "titleFont": "Liberation Sans", "titleFontSize": 26, "titlePadding": 10}},
    "y2": {"datum": 0},
    "color": {"field": "s", "type": "nominal", "sort": null,
              "scale": {"domain": ["T", "D"], "range": ["rgba(255,0,0,0.3)", "rgba(0,0,255,0.3)"]},
              "legend": {"orient": "top-left", "offset": 7, "title": null,
                         "labelExpr": "datum.value == 'T' ? 'This work (152 LAEs)' : ['Drake 2017', '(mosaic + UDF-10, 604 LAEs)']",
                         "symbolType": "M-2,-0.6H2V0.6H-2Z", "symbolSize": 225, "symbolStrokeWidth": 0, "symbolOffset": 7.5, "labelOffset": 19.5, "labelLimit": 400,
                         "labelFont": "Liberation Sans", "labelFontSize": 14.5, "labelColor": "#111111", "rowPadding": 6, "padding": 6,
                         "strokeColor": "#cccccc", "fillColor": "white", "cornerRadius": 3}}
  }
}
]
}
